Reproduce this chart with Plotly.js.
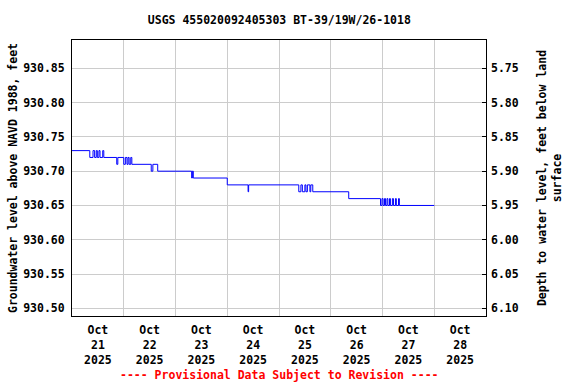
<!DOCTYPE html>
<html>
<head>
<meta charset="utf-8">
<script src="https://cdn.plot.ly/plotly-3.0.1.min.js"></script>
<style>html,body{margin:0;padding:0;background:#fff;}#chart{width:576px;height:384px;}</style>
</head>
<body>
<div id="chart"></div>
<script>
var times = [
  "2025-10-21 00:00","2025-10-21 08:15","2025-10-21 09:45","2025-10-21 10:30","2025-10-21 11:15",
  "2025-10-21 11:45","2025-10-21 12:30","2025-10-21 13:00","2025-10-21 14:15","2025-10-21 14:45",
  "2025-10-21 20:45","2025-10-21 21:15","2025-10-22 00:00","2025-10-22 00:45","2025-10-22 01:30",
  "2025-10-22 02:00","2025-10-22 02:30","2025-10-22 03:15","2025-10-22 03:45","2025-10-22 12:45",
  "2025-10-22 13:30","2025-10-22 15:45","2025-10-23 07:30","2025-10-23 07:50","2025-10-23 08:15",
  "2025-10-24 00:00","2025-10-24 09:40","2025-10-24 09:55","2025-10-25 09:10","2025-10-25 10:10",
  "2025-10-25 10:50","2025-10-25 12:00","2025-10-25 12:30","2025-10-25 13:10","2025-10-25 14:20",
  "2025-10-25 14:45","2025-10-25 15:40","2025-10-26 08:20","2025-10-26 23:05","2025-10-26 23:45",
  "2025-10-27 00:15","2025-10-27 00:55","2025-10-27 01:25","2025-10-27 02:05","2025-10-27 02:30",
  "2025-10-27 03:15","2025-10-27 03:40","2025-10-27 04:35","2025-10-27 05:05","2025-10-27 06:00",
  "2025-10-27 06:25","2025-10-27 07:25","2025-10-27 07:50","2025-10-28 00:00"
];
var levels = [
  930.73,930.72,930.73,930.72,930.73,
  930.72,930.73,930.72,930.73,930.72,
  930.71,930.72,930.71,930.72,930.71,
  930.72,930.71,930.72,930.71,930.70,
  930.71,930.70,930.69,930.70,930.69,
  930.68,930.67,930.68,930.67,930.68,
  930.67,930.68,930.67,930.68,930.67,
  930.68,930.67,930.66,930.65,930.66,
  930.65,930.66,930.65,930.66,930.65,
  930.66,930.65,930.66,930.65,930.66,
  930.65,930.66,930.65,930.65
];
var tickDates = ["2025-10-21 12:00","2025-10-22 12:00","2025-10-23 12:00","2025-10-24 12:00",
                 "2025-10-25 12:00","2025-10-26 12:00","2025-10-27 12:00","2025-10-28 12:00"];
var tickLabels = ["Oct<br>21<br>2025","Oct<br>22<br>2025","Oct<br>23<br>2025","Oct<br>24<br>2025",
                  "Oct<br>25<br>2025","Oct<br>26<br>2025","Oct<br>27<br>2025","Oct<br>28<br>2025"];
var landSurface = 936.60;
var elevRange = [930.4888, 930.8913];

var F = "DejaVu Sans Mono, monospace";
var fnt = {family: F, size: 11.5, color: "#000", weight: "bold"};

var trace = {
  x: times, y: levels, type: "scatter", mode: "lines",
  line: {color: "#0000ff", width: 1, shape: "hv"},
  hoverinfo: "none", showlegend: false
};

var layout = {
  width: 576, height: 384,
  margin: {l: 72, r: 90, t: 40, b: 68, pad: 0},
  paper_bgcolor: "#fff", plot_bgcolor: "#fff",
  font: fnt,
  title: {text: "USGS 455020092405303 BT-39/19W/26-1018", font: fnt, x: 0.485, xanchor: "center", y: 0.948, yanchor: "middle"},
  xaxis: {
    type: "date",
    range: ["2025-10-21 00:00", "2025-10-29 00:00"],
    tickmode: "array", tickvals: tickDates, ticktext: tickLabels,
    ticks: "", showgrid: false, tickfont: fnt, ticklabelstandoff: 3,
    showline: true, linecolor: "#000", linewidth: 1, mirror: true,
    zeroline: false,
    minor: {tickmode: "linear", tick0: "2025-10-21 00:00", dtick: 86400000, showgrid: true, gridcolor: "#cccccc", gridwidth: 1, ticks: ""}
  },
  yaxis: {
    range: elevRange, dtick: 0.05, tick0: 930.5, tickformat: ".2f",
    showgrid: true, gridcolor: "#cccccc", gridwidth: 1,
    ticks: "", tickfont: fnt, ticklabelstandoff: 4,
    showline: true, linecolor: "#000", linewidth: 1, mirror: true, zeroline: false,
    title: {text: "Groundwater level above NAVD 1988, feet", font: fnt, standoff: 3}
  },
  yaxis2: {
    overlaying: "y", side: "right", anchor: "x",
    range: [landSurface - elevRange[0], landSurface - elevRange[1]],
    dtick: 0.05, tick0: 5.75, tickformat: ".2f",
    showgrid: false, zeroline: false,
    ticks: "inside", ticklen: 4, tickcolor: "#000", tickfont: fnt, ticklabelstandoff: 4,
    showline: false,
    title: {text: "Depth to water level, feet below land<br>surface", font: fnt, standoff: 20}
  },
  annotations: [{
    text: "---- Provisional Data Subject to Revision ----",
    xref: "paper", yref: "paper", x: 0.5, y: -0.214, xanchor: "center", yanchor: "middle",
    showarrow: false, font: {family: F, size: 11.5, color: "#ff0000", weight: "bold"}
  }]
};

Plotly.newPlot("chart", [trace, {x: [], y: [], yaxis: "y2", type: "scatter", showlegend: false}], layout, {staticPlot: true});
</script>
</body>
</html>
